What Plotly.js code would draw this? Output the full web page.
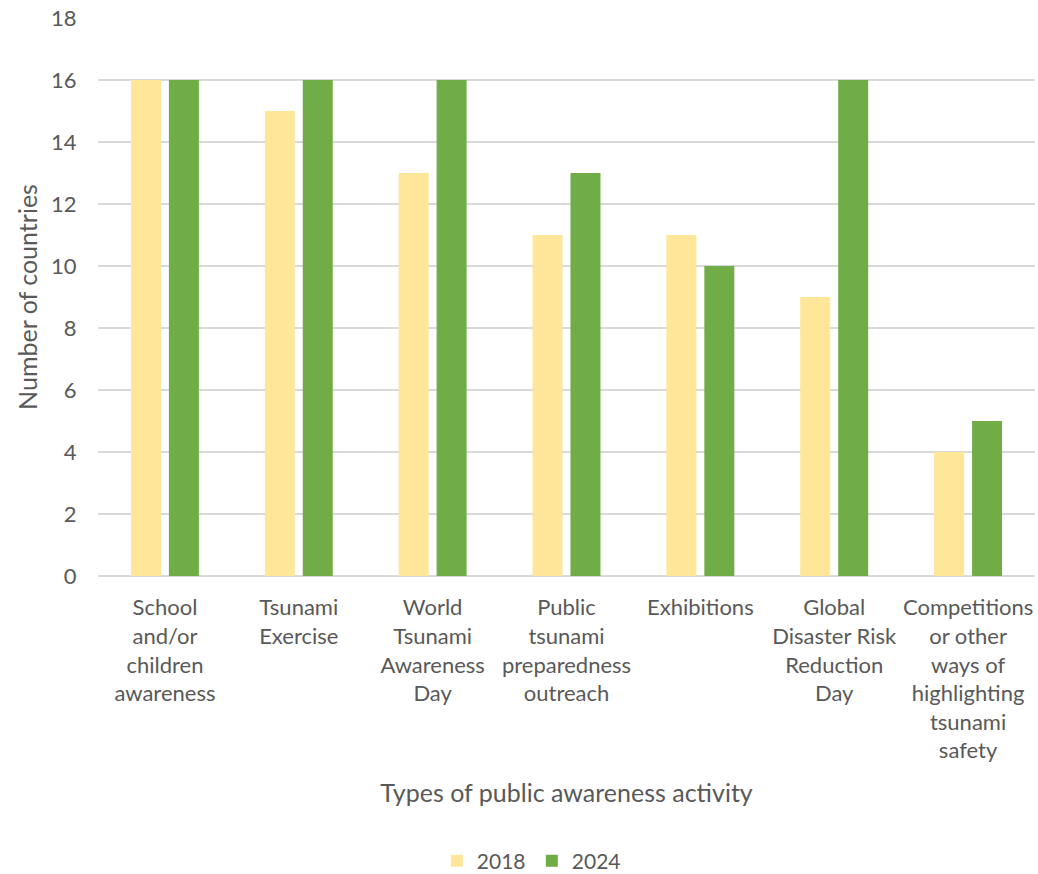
<!DOCTYPE html>
<html>
<head>
<meta charset="utf-8">
<script src="https://cdn.plot.ly/plotly-3.0.1.min.js"></script>
<style>html,body{margin:0;padding:0;background:#fff;}#chart{width:1038px;height:874px;}</style>
</head>
<body>
<div id="chart"></div>
<script>
const categories = [
  "School<br>and/or<br>children<br>awareness",
  "Tsunami<br>Exercise",
  "World<br>Tsunami<br>Awareness<br>Day",
  "Public<br>tsunami<br>preparedness<br>outreach",
  "Exhibitions",
  "Global<br>Disaster Risk<br>Reduction<br>Day",
  "Competitions<br>or other<br>ways of<br>highlighting<br>tsunami<br>safety"
];
const values2018 = [16, 15, 13, 11, 11, 9, 4];
const values2024 = [16, 16, 16, 13, 10, 16, 5];
const seriesNames = ["2018", "2024"];
const yTicks = [0, 2, 4, 6, 8, 10, 12, 14, 16, 18];

const font = "Lato, 'Open Sans', sans-serif";
const grey = "#595959";

const data = [
  {type: "bar", name: seriesNames[0], x: categories, y: values2018, marker: {color: "#FFE699"}, hoverinfo: "y+name"},
  {type: "bar", name: seriesNames[1], x: categories, y: values2024, marker: {color: "#70AD47"}, hoverinfo: "y+name"}
];

const layout = {
  width: 1038, height: 874,
  margin: {l: 98, r: 3, t: 18, b: 298, autoexpand: false},
  paper_bgcolor: "#fff", plot_bgcolor: "#fff",
  font: {family: font, color: grey, size: 22},
  barmode: "group",
  bargap: 0.433,
  bargroupgap: 0.21,
  showlegend: true,
  legend: {orientation: "h", x: 0.463, xanchor: "center", y: -0.511, yanchor: "middle",
           font: {family: font, size: 21, color: grey}, itemwidth: 30, traceorder: "normal",
           entrywidth: 50, entrywidthmode: "pixels"},
  xaxis: {
    type: "category",
    automargin: false,
    showgrid: false,
    showline: false,
    zeroline: false,
    ticks: "outside", ticklen: 12, tickcolor: "rgba(0,0,0,0)",
    tickfont: {family: font, size: 22, color: grey},
    tickangle: 0,
    title: {text: "Types of public awareness activity", font: {family: font, size: 25, color: grey}, standoff: 22}
  },
  yaxis: {
    range: [0, 18],
    tickvals: yTicks,
    ticktext: yTicks.map(String),
    automargin: false,
    showgrid: true, gridcolor: "#D9D9D9", gridwidth: 1.5,
    zeroline: true, zerolinecolor: "#D9D9D9", zerolinewidth: 1.5,
    showline: false,
    ticks: "outside", ticklen: 16, tickcolor: "rgba(0,0,0,0)",
    tickfont: {family: font, size: 22, color: grey},
    title: {text: "Number of countries", font: {family: font, size: 25, color: grey}, standoff: 6}
  }
};

Plotly.newPlot("chart", data, layout, {displayModeBar: false, staticPlot: true});
</script>
</body>
</html>
